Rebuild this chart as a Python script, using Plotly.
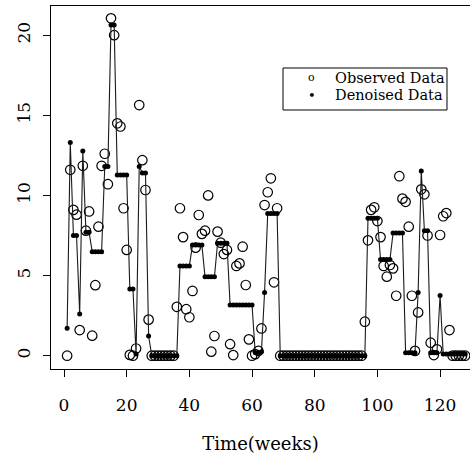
import plotly.graph_objects as go

weeks = list(range(1, 129))

observed = [
    0.0, 11.6, 9.1, 8.8, 1.6, 11.85, 7.8, 9.0, 1.25, 4.4,
    8.05, 11.85, 12.6, 10.7, 21.05, 20.0, 14.5, 14.3, 9.2, 6.6,
    0.05, 0.0, 0.45, 15.64, 12.2, 10.34, 2.25, 0.0, 0.0, 0.0,
    0.0, 0.0, 0.0, 0.0, 0.0, 3.05, 9.2, 7.4, 2.9, 2.4,
    4.04, 6.74, 8.78, 7.6, 7.8, 10.0, 0.25, 1.23, 7.74, 7.05,
    6.34, 6.6, 0.72, 0.04, 5.6, 5.76, 6.8, 4.41, 1.02, 0.0,
    0.1, 0.3, 1.7, 9.4, 10.2, 11.07, 4.58, 9.2, 0.0, 0.0,
    0.0, 0.0, 0.0, 0.0, 0.0, 0.0, 0.0, 0.0, 0.0, 0.0,
    0.0, 0.0, 0.0, 0.0, 0.0, 0.0, 0.0, 0.0, 0.0, 0.0,
    0.0, 0.0, 0.0, 0.0, 0.0, 2.12, 7.2, 9.1, 9.26, 8.4,
    7.4, 5.6, 4.93, 5.66, 5.45, 3.74, 11.2, 9.8, 9.6, 8.05,
    3.74, 0.3, 2.7, 10.38, 10.07, 7.5, 0.81, 0.04, 0.4, 7.53,
    8.7, 8.9, 1.6, 0.0, 0.0, 0.0, 0.0, 0.0,
]

denoised = [
    1.72, 13.3, 7.5, 7.5, 2.6, 12.77, 7.7, 7.7, 6.49, 6.49,
    6.49, 6.49, 11.8, 11.8, 20.63, 20.63, 11.27, 11.27, 11.27, 11.27,
    4.16, 4.16, 0.1, 11.8, 11.4, 11.4, 1.23, 0.0, 0.0, 0.0,
    0.0, 0.0, 0.0, 0.0, 0.0, 0.0, 5.6, 5.6, 5.6, 5.6,
    6.9, 6.9, 6.9, 6.9, 4.93, 4.93, 4.93, 4.93, 7.02, 7.02,
    7.02, 7.02, 3.16, 3.16, 3.16, 3.16, 3.16, 3.16, 3.16, 3.16,
    0.2, 0.2, 0.25, 3.95, 8.88, 8.88, 8.88, 8.88, 0.0, 0.0,
    0.0, 0.0, 0.0, 0.0, 0.0, 0.0, 0.0, 0.0, 0.0, 0.0,
    0.0, 0.0, 0.0, 0.0, 0.0, 0.0, 0.0, 0.0, 0.0, 0.0,
    0.0, 0.0, 0.0, 0.0, 0.0, 0.0, 8.57, 8.57, 8.57, 8.57,
    6.0, 6.0, 6.0, 6.0, 7.65, 7.65, 7.65, 7.65, 0.18, 0.18,
    0.18, 0.18, 3.95, 11.52, 7.8, 7.8, 0.18, 0.18, 0.18, 3.76,
    0.1, 0.1, 0.1, 0.1, 0.1, 0.1, 0.1, 0.1,
]

x_ticks = [0, 20, 40, 60, 80, 100, 120]
y_ticks = [0, 5, 10, 15, 20]
legend_labels = ["Observed Data", "Denoised Data"]
x_title = "Time(weeks)"

FONT = "DejaVu Serif"

fig = go.Figure()
fig.add_trace(go.Scatter(
    x=weeks, y=observed, mode="markers", name=legend_labels[0],
    marker=dict(symbol="circle-open", size=9.5, color="black",
                line=dict(width=1.2, color="black")),
    showlegend=False,
))
fig.add_trace(go.Scatter(
    x=weeks, y=denoised, mode="lines+markers", name=legend_labels[1],
    line=dict(color="#1a1a1a", width=1.1),
    marker=dict(symbol="circle", size=5, color="black"),
    showlegend=False,
))

# legend box (drawn manually to mimic the reference)
fig.add_shape(type="rect", xref="paper", yref="paper",
              x0=0.5537, x1=0.9451, y0=0.7135, y1=0.8292,
              line=dict(color="black", width=1), fillcolor="rgba(0,0,0,0)")
fig.add_annotation(xref="paper", yref="paper", x=0.622, y=0.8017,
                   text="o", showarrow=False, xanchor="center", yanchor="middle",
                   font=dict(family=FONT, size=11, color="black"))
fig.add_annotation(xref="paper", yref="paper", x=0.622, y=0.7548,
                   text="•", showarrow=False, xanchor="center", yanchor="middle",
                   font=dict(family=FONT, size=13, color="black"))
fig.add_annotation(xref="paper", yref="paper", x=0.672, y=0.8017,
                   text=legend_labels[0], showarrow=False, xanchor="left", yanchor="middle",
                   font=dict(family=FONT, size=14.5, color="black"))
fig.add_annotation(xref="paper", yref="paper", x=0.672, y=0.7548,
                   text=legend_labels[1], showarrow=False, xanchor="left", yanchor="middle",
                   font=dict(family=FONT, size=14.5, color="black"))

fig.update_layout(
    width=470, height=459,
    margin=dict(l=51, r=0, t=6, b=90),
    paper_bgcolor="white", plot_bgcolor="white",
    font=dict(family=FONT, color="black"),
    hovermode=False,
    xaxis=dict(
        range=[-4.15, 129.55], tickmode="array", tickvals=x_ticks,
        ticks="outside", ticklen=7, tickcolor="black", tickwidth=1,
        showline=True, linecolor="black", linewidth=1, mirror=True,
        showgrid=False, zeroline=False,
        tickfont=dict(family=FONT, size=17, color="black"),
        ticklabelstandoff=14,
        title=dict(text=x_title, font=dict(family=FONT, size=18, color="black"), standoff=22),
    ),
    yaxis=dict(
        range=[-0.83, 21.82], tickmode="array", tickvals=y_ticks,
        ticks="outside", ticklen=7, tickcolor="black", tickwidth=1,
        showline=True, linecolor="black", linewidth=1, mirror=False,
        showgrid=False, zeroline=False, tickangle=-90,
        tickfont=dict(family=FONT, size=17, color="black"),
        ticklabelstandoff=6,
    ),
)

fig.write_html("out.html",
               config={"displayModeBar": False},
               post_script="document.body.style.margin='0px';document.body.style.padding='0px';")
